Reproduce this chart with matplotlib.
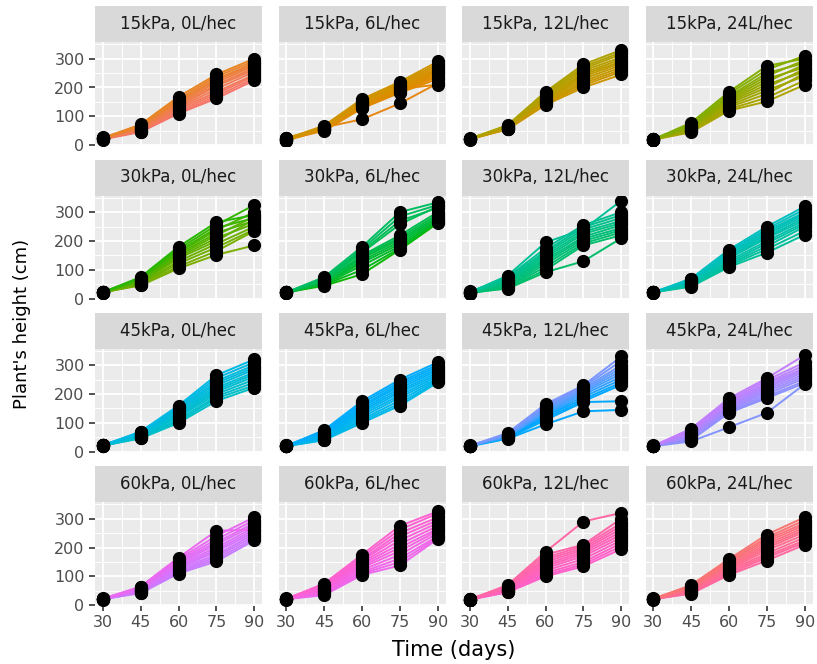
import numpy as np
import matplotlib
matplotlib.use("Agg")
import matplotlib.pyplot as plt

plt.rcParams['font.family'] = ['DejaVu Sans']

days = [30, 45, 60, 75, 90]
pressures = ["15kPa", "30kPa", "45kPa", "60kPa"]
rates = ["0L/hec", "6L/hec", "12L/hec", "24L/hec"]

# plant heights (cm) at days 30, 45, 60, 75, 90 ; one row per plant
h_15_0 = [[20, 46, 110, 162, 225], [26, 47, 112, 170, 232], [22, 48, 118, 178, 240],
          [24, 50, 125, 185, 245], [21, 52, 130, 195, 255], [25, 55, 135, 205, 262],
          [23, 58, 140, 210, 268], [27, 60, 145, 218, 275], [22, 62, 150, 225, 280],
          [26, 65, 155, 230, 285], [24, 68, 160, 238, 292], [25, 72, 168, 245, 300]]
h_15_6 = [[23, 62, 90, 145, 215], [19, 58, 142, 195, 210], [20, 50, 128, 182, 230],
          [26, 52, 130, 185, 238], [16, 54, 135, 188, 245], [22, 55, 138, 192, 250],
          [20, 56, 140, 198, 255], [24, 58, 145, 200, 262], [18, 60, 148, 205, 268],
          [25, 62, 150, 210, 275], [20, 65, 155, 215, 282], [22, 68, 160, 220, 290]]
h_15_12 = [[21, 55, 140, 200, 245], [22, 56, 143, 208, 255], [20, 57, 147, 215, 262],
           [22, 58, 150, 222, 270], [23, 60, 155, 230, 278], [21, 61, 158, 238, 285],
           [22, 62, 160, 245, 290], [24, 64, 165, 250, 298], [22, 65, 170, 258, 305],
           [21, 66, 175, 265, 315], [23, 68, 180, 272, 322], [22, 70, 185, 280, 330]]
h_15_24 = [[19, 45, 120, 152, 210], [21, 48, 125, 165, 225], [20, 50, 132, 178, 250],
           [22, 52, 138, 190, 240], [20, 55, 145, 200, 265], [19, 58, 150, 210, 255],
           [21, 60, 155, 220, 280], [20, 62, 160, 230, 270], [22, 65, 165, 240, 295],
           [19, 68, 170, 250, 285], [21, 72, 178, 262, 310], [20, 78, 185, 275, 300]]
h_30_0 = [[23, 46, 105, 152, 185], [22, 48, 112, 165, 235], [21, 50, 122, 178, 240],
          [22, 52, 130, 190, 250], [23, 55, 140, 200, 275], [20, 58, 145, 210, 260],
          [22, 60, 150, 220, 285], [24, 62, 155, 228, 270], [22, 65, 160, 238, 300],
          [21, 68, 165, 245, 280], [23, 72, 172, 255, 325], [22, 75, 180, 265, 290]]
h_30_6 = [[22, 45, 85, 170, 262], [23, 48, 100, 175, 265], [21, 50, 115, 182, 270],
          [22, 52, 125, 190, 275], [22, 55, 132, 198, 280], [23, 58, 140, 205, 285],
          [21, 60, 145, 212, 292], [22, 62, 150, 220, 300], [23, 65, 160, 258, 320],
          [21, 68, 165, 270, 315], [22, 70, 172, 285, 325], [22, 75, 180, 300, 334]]
h_30_12 = [[22, 35, 92, 130, 210], [19, 38, 100, 185, 220], [23, 42, 110, 192, 230],
           [21, 45, 120, 200, 238], [26, 50, 128, 208, 245], [20, 55, 135, 215, 255],
           [22, 58, 142, 225, 262], [24, 62, 150, 232, 270], [18, 65, 158, 240, 280],
           [25, 70, 165, 248, 290], [20, 75, 175, 255, 300], [22, 80, 195, 240, 340]]
h_30_24 = [[22, 42, 110, 160, 222], [23, 44, 115, 172, 235], [22, 47, 120, 182, 250],
           [21, 50, 125, 192, 258], [22, 52, 132, 200, 265], [23, 55, 140, 210, 272],
           [22, 58, 145, 215, 280], [21, 60, 150, 222, 288], [22, 62, 155, 228, 295],
           [23, 65, 160, 235, 300], [21, 67, 165, 242, 310], [22, 70, 170, 250, 320]]
h_45_0 = [[21, 46, 100, 176, 222], [22, 48, 106, 185, 230], [20, 50, 112, 192, 240],
          [22, 52, 120, 200, 250], [23, 54, 125, 208, 260], [21, 56, 130, 215, 268],
          [22, 58, 135, 222, 275], [24, 60, 140, 230, 285], [22, 62, 145, 238, 292],
          [21, 65, 150, 245, 300], [23, 67, 155, 255, 310], [22, 70, 160, 265, 320]]
h_45_6 = [[19, 40, 100, 160, 240], [20, 42, 106, 168, 245], [22, 45, 112, 178, 250],
          [20, 48, 120, 188, 255], [21, 51, 128, 196, 262], [19, 54, 135, 205, 268],
          [20, 57, 142, 212, 275], [22, 60, 148, 220, 282], [20, 63, 155, 228, 288],
          [19, 66, 160, 235, 295], [21, 70, 168, 242, 302], [20, 75, 175, 250, 310]]
h_45_12 = [[19, 45, 95, 140, 145], [21, 47, 110, 172, 175], [20, 48, 118, 175, 232],
           [20, 50, 125, 182, 240], [21, 52, 130, 190, 250], [19, 53, 135, 198, 260],
           [20, 55, 140, 205, 270], [22, 57, 145, 210, 280], [20, 58, 150, 215, 290],
           [19, 60, 155, 220, 300], [21, 62, 160, 225, 315], [20, 65, 165, 230, 330]]
h_45_24 = [[19, 36, 85, 135, 235], [21, 40, 135, 186, 238], [20, 44, 136, 192, 245],
           [20, 48, 140, 200, 255], [21, 52, 145, 208, 262], [19, 55, 150, 215, 270],
           [20, 58, 155, 222, 278], [22, 62, 160, 228, 285], [20, 66, 165, 235, 290],
           [19, 70, 172, 240, 300], [21, 75, 178, 248, 310], [20, 80, 185, 255, 335]]
h_60_0 = [[21, 42, 110, 152, 225], [22, 44, 114, 160, 232], [20, 46, 118, 168, 240],
          [22, 48, 125, 175, 248], [23, 50, 130, 185, 255], [21, 52, 135, 192, 262],
          [22, 54, 140, 200, 270], [24, 56, 145, 210, 278], [22, 58, 150, 218, 285],
          [21, 60, 155, 228, 295], [23, 62, 160, 240, 305], [22, 65, 165, 258, 262]]
h_60_6 = [[21, 35, 105, 138, 230], [22, 38, 110, 150, 235], [20, 42, 115, 162, 240],
          [22, 45, 122, 175, 250], [23, 48, 130, 188, 258], [21, 52, 136, 200, 265],
          [22, 55, 142, 212, 275], [24, 58, 148, 225, 285], [22, 62, 155, 238, 295],
          [21, 66, 160, 250, 305], [23, 70, 168, 262, 318], [22, 75, 175, 275, 325]]
h_60_12 = [[19, 45, 100, 135, 195], [21, 46, 105, 142, 205], [20, 48, 112, 150, 215],
           [20, 50, 120, 160, 225], [21, 52, 128, 170, 235], [19, 54, 135, 178, 245],
           [20, 56, 142, 185, 255], [22, 58, 150, 192, 265], [20, 60, 158, 198, 275],
           [19, 63, 165, 205, 285], [21, 66, 175, 210, 300], [20, 70, 185, 290, 320]]
h_60_24 = [[21, 40, 105, 155, 210], [22, 42, 110, 165, 218], [20, 45, 115, 172, 225],
           [22, 47, 120, 180, 235], [23, 50, 125, 190, 245], [21, 52, 130, 198, 255],
           [22, 55, 135, 205, 262], [24, 58, 140, 212, 270], [22, 60, 145, 220, 278],
           [21, 63, 150, 228, 285], [23, 66, 155, 235, 295], [22, 70, 160, 245, 305]]

panels = [[h_15_0, h_15_6, h_15_12, h_15_24],
          [h_30_0, h_30_6, h_30_12, h_30_24],
          [h_45_0, h_45_6, h_45_12, h_45_24],
          [h_60_0, h_60_6, h_60_12, h_60_24]]


def hcl_color(h, c=100.0, l=65.0):
    hr = np.deg2rad(h)
    u, v = c * np.cos(hr), c * np.sin(hr)
    Xn, Yn, Zn = 95.047, 100.0, 108.883
    den = Xn + 15 * Yn + 3 * Zn
    un, vn = 4 * Xn / den, 9 * Yn / den
    Y = Yn * ((l + 16) / 116) ** 3
    up = u / (13 * l) + un
    vp = v / (13 * l) + vn
    X = Y * 9 * up / (4 * vp)
    Z = Y * (12 - 3 * up - 20 * vp) / (4 * vp)
    M = np.array([[3.2404542, -1.5371385, -0.4985314],
                  [-0.9692660, 1.8760108, 0.0415560],
                  [0.0556434, -0.2040259, 1.0572252]])
    lin = M @ (np.array([X, Y, Z]) / 100.0)
    lin = np.clip(lin, 0, 1)
    rgb = np.where(lin <= 0.0031308, 12.92 * lin, 1.055 * lin ** (1 / 2.4) - 0.055)
    return tuple(np.clip(rgb, 0, 1))


W, H = 817, 664
fig = plt.figure(figsize=(W / 100, H / 100), dpi=100)
col_x = [95, 278.5, 462, 645.5]
row_top = [42, 195.5, 348.5, 502]
pw, ph, sh = 167, 104, 36

n_total = sum(len(p) for row in panels for p in row)
k = 0
for r in range(4):
    for c in range(4):
        x0, t0 = col_x[c], row_top[r]
        ax = fig.add_axes([x0 / W, 1 - (t0 + ph) / H, pw / W, ph / H])
        ax.set_facecolor('#EBEBEB')
        for s in ax.spines.values():
            s.set_visible(False)
        ax.set_xlim(27, 93)
        ax.set_ylim(-2.5, 357.5)
        ax.set_xticks(days)
        ax.set_yticks([0, 100, 200, 300])
        ax.set_xticks([37.5, 52.5, 67.5, 82.5], minor=True)
        ax.set_yticks([50, 150, 250, 350], minor=True)
        ax.grid(which='major', color='white', lw=1.3)
        ax.grid(which='minor', color='white', lw=0.65)
        ax.set_axisbelow(True)
        ax.tick_params(which='minor', length=0)
        ax.tick_params(which='major', color='#333333', width=1.2,
                       labelcolor='#4D4D4D', labelsize=11.5)
        if c == 0:
            ax.tick_params(axis='y', length=4.5, pad=3)
        else:
            ax.tick_params(axis='y', left=False, labelleft=False)
        if r == 3:
            ax.tick_params(axis='x', length=3.5, pad=3)
        else:
            ax.tick_params(axis='x', bottom=False, labelbottom=False)
        data = panels[r][c]
        for plant in data:
            hue = 15 + 360.0 * k / n_total
            ax.plot(days, plant, color=hcl_color(hue), lw=1.4, zorder=2)
            k += 1
        for plant in data:
            ax.plot(days, plant, 'o', color='black', ms=9.5, mew=0, zorder=3)

        sax = fig.add_axes([x0 / W, 1 - t0 / H, pw / W, sh / H])
        sax.set_facecolor('#D9D9D9')
        sax.set_xticks([])
        sax.set_yticks([])
        for s in sax.spines.values():
            s.set_visible(False)
        sax.text(0.5, 0.5, f"{pressures[r]}, {rates[c]}", ha='center', va='center',
                 fontsize=12, color='#1A1A1A', transform=sax.transAxes)

fig.text(453.7 / W, 1 - 650 / H, 'Time (days)', ha='center', va='center', fontsize=15)
fig.text(22 / W, 1 - 323.5 / H, "Plant's height (cm)", ha='center', va='center',
         rotation=90, fontsize=13)

fig.savefig('out.png', dpi=100)
